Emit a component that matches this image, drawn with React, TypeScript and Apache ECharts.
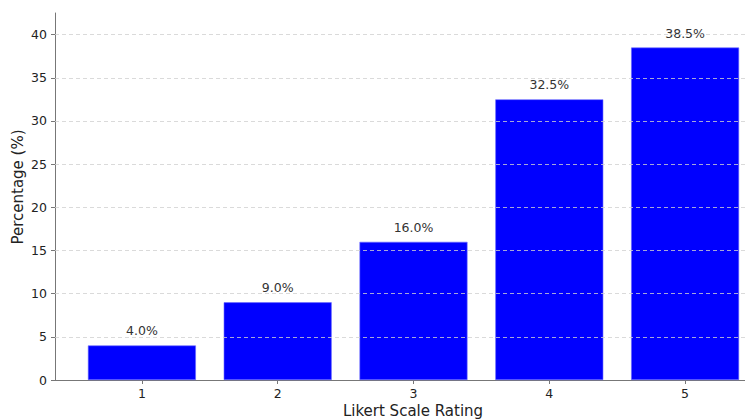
import React, { useEffect, useRef } from "react";
import * as echarts from "echarts";

const ratings = [1, 2, 3, 4, 5];
const percentages = [4.0, 9.0, 16.0, 32.5, 38.5];
const yTicks = [0, 5, 10, 15, 20, 25, 30, 35, 40];

const FONT = "DejaVu Sans";

export default function App() {
  const ref = useRef<HTMLDivElement>(null);
  useEffect(() => {
    if (!ref.current) return;
    const chart = echarts.init(ref.current, null, { renderer: "svg" });
    chart.setOption({
      animation: false,
      backgroundColor: "#ffffff",
      grid: { left: 55, right: -27, top: 13, bottom: 39, containLabel: false, outerBoundsMode: "none" },
      xAxis: {
        type: "value",
        min: 0.36,
        max: 5.64,
        splitLine: { show: false },
        axisLine: { show: true, onZero: false, lineStyle: { color: "#777", width: 1 } },
        axisTick: { show: true, customValues: ratings, length: 4, lineStyle: { color: "#777" } },
        axisLabel: {
          customValues: ratings,
          fontFamily: FONT,
          fontSize: 12.5,
          color: "#222",
          margin: 7,
          formatter: (v: number) => String(v),
        },
      },
      yAxis: {
        type: "value",
        min: 0,
        max: 42.5,
        axisLine: { show: true, lineStyle: { color: "#777", width: 1 } },
        axisTick: { show: true, customValues: yTicks, length: 4, lineStyle: { color: "#777" } },
        axisLabel: {
          customValues: yTicks,
          fontFamily: FONT,
          fontSize: 12.5,
          color: "#222",
          margin: 8,
        },
        splitLine: { show: false },
      },
      graphic: [
        {
          type: "text",
          x: 18,
          y: 187,
          rotation: Math.PI / 2,
          style: {
            text: "Percentage (%)",
            fontFamily: FONT,
            fontSize: 15,
            fill: "#222",
            align: "center",
            verticalAlign: "middle",
          },
        },
        {
          type: "text",
          x: 413,
          y: 418,
          style: {
            text: "Likert Scale Rating",
            fontFamily: FONT,
            fontSize: 15,
            fill: "#222",
            align: "center",
            verticalAlign: "bottom",
          },
        },
      ],
      series: [
        {
          type: "line",
          data: [],
          markLine: {
            silent: true,
            symbol: "none",
            label: { show: false },
            lineStyle: { color: "#d0d0d0", type: [4, 3], width: 0.8 },
            data: yTicks.filter((t) => t > 0).map((t) => ({ yAxis: t })),
          },
        },
        {
          type: "bar",
          barWidth: 108,
          data: ratings.map((r, i) => [r, percentages[i]]),
          itemStyle: { color: "#0000ff", borderColor: "#6b6bff", borderWidth: 0.6 },
          label: {
            show: true,
            position: "top",
            distance: 8,
            fontFamily: FONT,
            fontSize: 12.5,
            color: "#333",
            formatter: (p: any) => `${p.value[1].toFixed(1)}%`,
          },
          z: 1,
        },
      ],
    });
    return () => chart.dispose();
  }, []);
  return <div ref={ref} style={{ width: 745, height: 419, position: "absolute", left: 0, top: 0 }} />;
}
